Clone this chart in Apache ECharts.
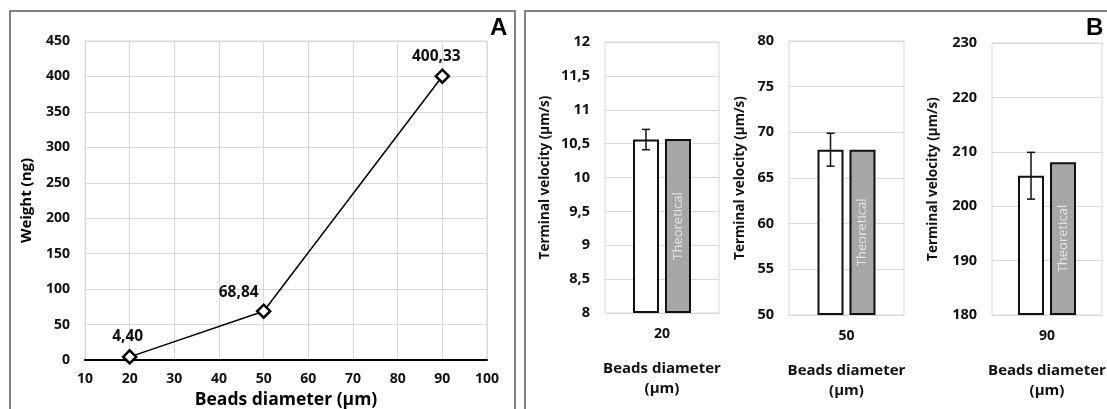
<!DOCTYPE html>
<html><head><meta charset="utf-8">
<script src="https://cdn.jsdelivr.net/npm/echarts@6/dist/echarts.min.js"></script>
<style>html,body{margin:0;padding:0;background:#fff}#c{width:1107px;height:409px}</style>
</head><body><div id="c"></div>
<script>
// Panel A data
const diameters = [20, 50, 90];
const weights = [4.40, 68.84, 400.33];
const xTicksA = [10, 100, 10];      // min, max, interval
const yTicksA = [0, 450, 50];

// Panel B data
const categoriesB = ['20', '50', '90'];
const experimental = [10.56, 68.1, 205.6];
const expError = [0.15, 1.8, 4.3];
const theoretical = [10.57, 68.1, 208.1];
const yMinB = [8, 50, 180];
const yMaxB = [12, 80, 230];
const yIntB = [0.5, 5, 10];

const FONT = 'Open Sans';
const BAR_W = 26, GAP = 0.23;
const labelOffsets = [[-2, 0], [-25, 2], [-6, 1]];

const comma = v => String(v).replace('.', ',');

const grids = [
  { left: 85, top: 41, width: 402, height: 319 },
  { left: 605, top: 42, width: 114, height: 271 },
  { left: 789, top: 41, width: 115, height: 274 },
  { left: 992, top: 43, width: 110, height: 272 }
];

const xAxes = [{
  gridIndex: 0, type: 'value', min: xTicksA[0], max: xTicksA[1], interval: xTicksA[2],
  name: 'Beads diameter (µm)', nameLocation: 'middle', nameGap: 31,
  nameTextStyle: { fontFamily: FONT, fontWeight: 'bold', fontSize: 17.5, color: '#000' },
  axisLine: { lineStyle: { color: '#000', width: 2 } }, axisTick: { show: false },
  axisLabel: { fontFamily: FONT, fontWeight: 'bold', fontSize: 14, color: '#111', margin: 12 },
  splitLine: { show: true, lineStyle: { color: '#d9d9d9' } }
}];
const yAxes = [{
  gridIndex: 0, type: 'value', min: yTicksA[0], max: yTicksA[1], interval: yTicksA[2],
  name: 'Weight (ng)', nameLocation: 'middle', nameGap: 51,
  nameTextStyle: { fontFamily: FONT, fontWeight: 'bold', fontSize: 15, color: '#000' },
  axisLine: { show: false }, axisTick: { show: false },
  axisLabel: { fontFamily: FONT, fontWeight: 'bold', fontSize: 14, color: '#111', margin: 15 },
  splitLine: { lineStyle: { color: '#d9d9d9' } }
}];

const series = [{
  type: 'line', xAxisIndex: 0, yAxisIndex: 0,
  data: diameters.map((d, i) => ({
    value: [d, weights[i]],
    label: { offset: labelOffsets[i] }
  })),
  symbol: 'diamond', symbolSize: 13,
  itemStyle: { color: '#fff', borderColor: '#000', borderWidth: 2.5 },
  lineStyle: { color: '#000', width: 1.5 },
  label: {
    show: true, position: 'top', distance: 5,
    fontFamily: FONT, fontWeight: 'bold', fontSize: 15.5, color: '#111',
    formatter: p => p.value[1].toFixed(2).replace('.', ',')
  },
  z: 5
}];

categoriesB.forEach((cat, k) => {
  const g = k + 1;
  xAxes.push({
    gridIndex: g, type: 'category', data: [cat],
    name: 'Beads diameter\n(µm)', nameLocation: 'middle', nameGap: 46,
    nameTextStyle: { fontFamily: FONT, fontWeight: 'bold', fontSize: 15, color: '#111', lineHeight: 20 },
    axisLine: { lineStyle: { color: '#d9d9d9' } }, axisTick: { show: false },
    axisLabel: { fontFamily: FONT, fontWeight: 'bold', fontSize: 14, color: '#111', margin: 14 }
  });
  yAxes.push({
    gridIndex: g, type: 'value', min: yMinB[k], max: yMaxB[k], interval: yIntB[k], startValue: yMinB[k],
    name: 'Terminal velocity (µm/s)', nameLocation: 'middle',
    nameGap: [53, 42, 52][k],
    nameTextStyle: { fontFamily: FONT, fontWeight: 'bold', fontSize: 13.5, color: '#111' },
    axisLine: { show: false }, axisTick: { show: false },
    axisLabel: { fontFamily: FONT, fontWeight: 'bold', fontSize: 14.5, color: '#111', margin: 15, formatter: comma },
    splitLine: { lineStyle: { color: '#d9d9d9' } }
  });
  series.push({
    type: 'bar', xAxisIndex: g, yAxisIndex: g, data: [experimental[k]],
    barWidth: BAR_W, barGap: (GAP * 100) + '%',
    itemStyle: { color: '#fff', borderColor: '#111', borderWidth: 2 }
  });
  series.push({
    type: 'bar', xAxisIndex: g, yAxisIndex: g, data: [theoretical[k]],
    barWidth: BAR_W, barGap: (GAP * 100) + '%',
    itemStyle: { color: '#a6a6a6', borderColor: '#111', borderWidth: 2 },
    label: { show: true, position: 'inside', rotate: 90, formatter: 'Theoretical',
      fontFamily: FONT, fontSize: 13, color: '#e6e6e6' }
  });
  series.push({
    type: 'custom', xAxisIndex: g, yAxisIndex: g,
    data: [[0, experimental[k] - expError[k], experimental[k] + expError[k]]],
    z: 10,
    renderItem: (params, api) => {
      const off = -(BAR_W + BAR_W * GAP) / 2;
      const lo = api.coord([api.value(0), api.value(1)]);
      const hi = api.coord([api.value(0), api.value(2)]);
      const x = lo[0] + off, cap = 4;
      const st = { stroke: '#111', lineWidth: 1.5 };
      return { type: 'group', children: [
        { type: 'line', shape: { x1: x, y1: lo[1], x2: x, y2: hi[1] }, style: st },
        { type: 'line', shape: { x1: x - cap, y1: lo[1], x2: x + cap, y2: lo[1] }, style: st },
        { type: 'line', shape: { x1: x - cap, y1: hi[1], x2: x + cap, y2: hi[1] }, style: st }
      ]};
    }
  });
});

const chart = echarts.init(document.getElementById('c'), null, { renderer: 'canvas' });
chart.setOption({
  backgroundColor: '#fff',
  animation: false,
  grid: grids.map(g => Object.assign({ containLabel: false, outerBoundsMode: 'none', show: true, borderColor: '#d9d9d9', borderWidth: 1, backgroundColor: 'transparent' }, g)),
  xAxis: xAxes,
  yAxis: yAxes,
  series: series,
  graphic: [
    { type: 'rect', shape: { x: 10, y: 11, width: 505, height: 420 }, style: { fill: 'none', stroke: '#5a5a5a', lineWidth: 1.5 } },
    { type: 'rect', shape: { x: 525, y: 11, width: 600, height: 420 }, style: { fill: 'none', stroke: '#5a5a5a', lineWidth: 1.5 } },
    { type: 'text', left: 490, top: 16, style: { text: 'A', font: 'bold 24px "Liberation Sans"', fill: '#000' } },
    { type: 'text', left: 1086, top: 16, style: { text: 'B', font: 'bold 24px "Liberation Sans"', fill: '#000' } }
  ]
});
</script></body></html>
